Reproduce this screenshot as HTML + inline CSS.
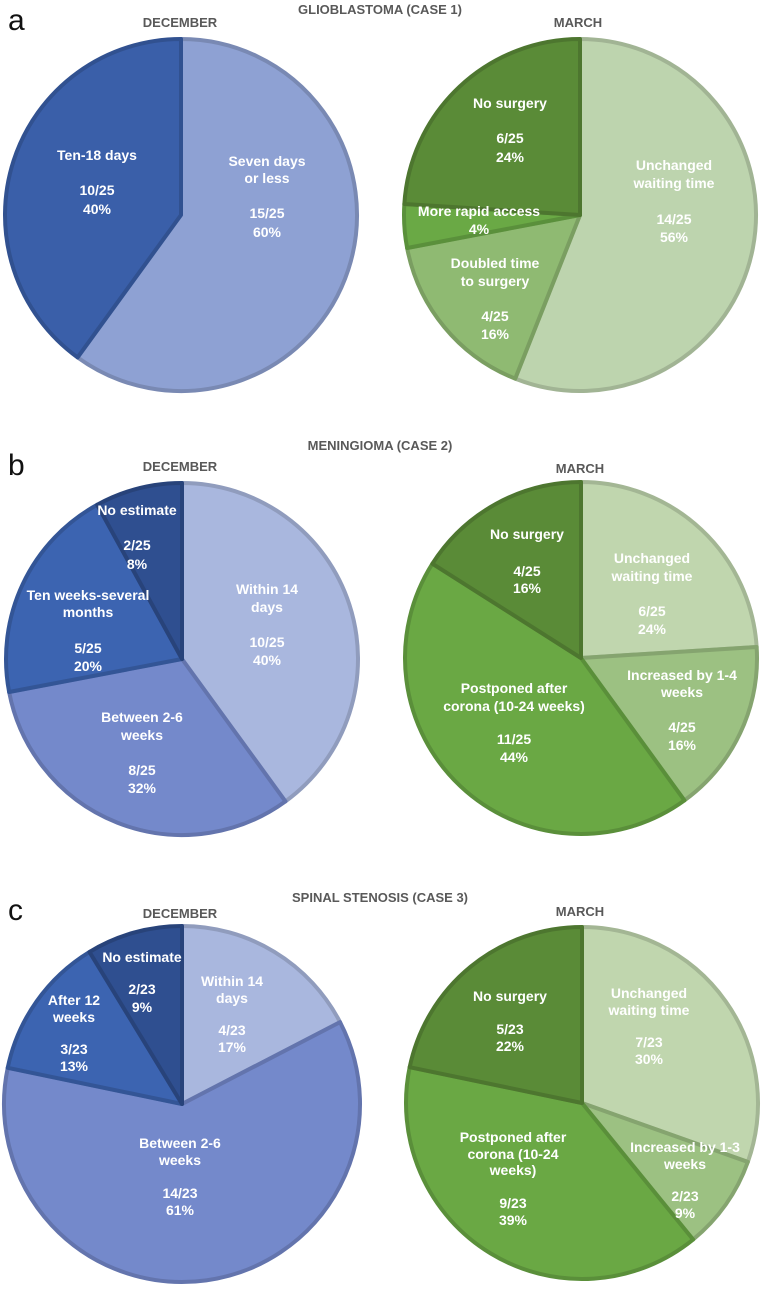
<!DOCTYPE html>
<html><head><meta charset="utf-8"><style>
html,body{margin:0;padding:0;background:#fff;}
svg text{font-family:"Liberation Sans",Arial,sans-serif;}
</style></head><body>
<svg id="fig" width="762" height="1285" viewBox="0 0 762 1285" xmlns="http://www.w3.org/2000/svg">
</svg>
<script>
const aDecValues=[15,10];
const aDecColors=["#8ea1d3","#3a5fa9"];
const aMarValues=[14,4,1,6];
const aMarColors=["#bdd4ae","#8fba72","#6aa945","#5a8b37"];
const bDecValues=[10,8,5,2];
const bDecColors=["#a9b7de","#7489cb","#3c64b1","#2f4f90"];
const bMarValues=[6,4,11,4];
const bMarColors=["#c0d6ae","#9cc182","#6aa844","#5a8b37"];
const cDecValues=[4,14,3,2];
const cDecColors=["#a9b7de","#7489cb","#3c64b1","#2f4f90"];
const cMarValues=[7,2,9,5];
const cMarColors=["#c0d6ae","#9cc182","#6aa844","#5a8b37"];

const NS="http://www.w3.org/2000/svg";
const svg=document.getElementById('fig');
function darker(hex){const n=parseInt(hex.slice(1),16);let r=n>>16,g=(n>>8)&255,b=n&255;r=Math.round(r*0.85);g=Math.round(g*0.85);b=Math.round(b*0.85);return `rgb(${r},${g},${b})`;}
function pie(name,cx,cy,r,values,colors){
  const total=values.reduce((a,b)=>a+b,0);
  let ang=0;
  const g=document.createElementNS(NS,'g');
  
  
  values.forEach((v,i)=>{
    const a0=ang,a1=ang+v/total*2*Math.PI;ang=a1;
    const x0=cx+r*Math.sin(a0),y0=cy-r*Math.cos(a0),x1=cx+r*Math.sin(a1),y1=cy-r*Math.cos(a1);
    const large=(a1-a0)>Math.PI?1:0;
    const p=document.createElementNS(NS,'path');
    p.setAttribute('d',`M${cx},${cy}L${x0},${y0}A${r},${r} 0 ${large} 1 ${x1},${y1}Z`);
    p.setAttribute('fill',colors[i]);
    p.setAttribute('stroke',darker(colors[i]));
    p.setAttribute('stroke-width','4');
    p.setAttribute('stroke-linejoin','round');
    
    
    g.appendChild(p);
  });
  svg.appendChild(g);
}
pie('pie-a-december',181,215,176,aDecValues,aDecColors);
pie('pie-a-march',580,215,176,aMarValues,aMarColors);
pie('pie-b-december',182,659,176,bDecValues,bDecColors);
pie('pie-b-march',581,658,176,bMarValues,bMarColors);
pie('pie-c-december',182,1104,178,cDecValues,cDecColors);
pie('pie-c-march',582,1103,176,cMarValues,cMarColors);

const labels=[
 ["label-ten-18-days",97,[["Ten-18 days",160],["10/25",195],["40%",214]]],
 ["label-seven-days",267,[["Seven days",166],["or less",183],["15/25",218],["60%",237]]],
 ["label-no-surgery-a",510,[["No surgery",108],["6/25",143],["24%",162]]],
 ["label-rapid-access-a",479,[["More rapid access",216],["4%",234]]],
 ["label-doubled-time-a",495,[["Doubled time",268],["to surgery",286],["4/25",321],["16%",339]]],
 ["label-unchanged-a",674,[["Unchanged",170],["waiting time",188],["14/25",224],["56%",242]]],
 ["label-no-estimate-b",137,[["No estimate",515],["2/25",550],["8%",569]]],
 ["label-ten-weeks-b",88,[["Ten weeks-several",600],["months",617],["5/25",653],["20%",671]]],
 ["label-within-14-b",267,[["Within 14",594],["days",612],["10/25",647],["40%",665]]],
 ["label-between-b",142,[["Between 2-6",722],["weeks",740],["8/25",775],["32%",793]]],
 ["label-no-surgery-b",527,[["No surgery",539],["4/25",576],["16%",593]]],
 ["label-unchanged-b",652,[["Unchanged",563],["waiting time",581],["6/25",616],["24%",634]]],
 ["label-increased-b",682,[["Increased by 1-4",680],["weeks",697],["4/25",732],["16%",750]]],
 ["label-postponed-b",514,[["Postponed after",693],["corona (10-24 weeks)",711],["11/25",744],["44%",762]]],
 ["label-no-estimate-c",142,[["No estimate",962],["2/23",994],["9%",1012]]],
 ["label-after-12-c",74,[["After 12",1005],["weeks",1022],["3/23",1054],["13%",1071]]],
 ["label-within-14-c",232,[["Within 14",986],["days",1003],["4/23",1035],["17%",1052]]],
 ["label-between-c",180,[["Between 2-6",1148],["weeks",1165],["14/23",1198],["61%",1215]]],
 ["label-no-surgery-c",510,[["No surgery",1001],["5/23",1034],["22%",1051]]],
 ["label-unchanged-c",649,[["Unchanged",998],["waiting time",1015],["7/23",1047],["30%",1064]]],
 ["label-increased-c",685,[["Increased by 1-3",1152],["weeks",1169],["2/23",1201],["9%",1218]]],
 ["label-postponed-c",513,[["Postponed after",1142],["corona (10-24",1159],["weeks)",1175],["9/23",1208],["39%",1225]]]
];
labels.forEach(([name,x,lines])=>{
  const t=document.createElementNS(NS,'text');
  
  
  t.setAttribute('text-anchor','middle');
  t.setAttribute('fill','#fff');
  t.setAttribute('font-weight','bold');
  t.setAttribute('font-size','14');
  lines.forEach(([s,y])=>{const ts=document.createElementNS(NS,'tspan');ts.setAttribute('x',x);ts.setAttribute('y',y);ts.textContent=s;t.appendChild(ts);});
  svg.appendChild(t);
});

const headers=[
 ["title-glioblastoma","GLIOBLASTOMA (CASE 1)",380,14],
 ["december-header-a","DECEMBER",180,27],
 ["march-header-a","MARCH",578,27],
 ["title-meningioma","MENINGIOMA (CASE 2)",380,450],
 ["december-header-b","DECEMBER",180,471],
 ["march-header-b","MARCH",580,473],
 ["title-spinal-stenosis","SPINAL STENOSIS (CASE 3)",380,902],
 ["december-header-c","DECEMBER",180,918],
 ["march-header-c","MARCH",580,916]
];
headers.forEach(([name,s,x,y])=>{
  const t=document.createElementNS(NS,'text');
  
  
  t.setAttribute('text-anchor','middle');
  t.setAttribute('fill','#595959');
  t.setAttribute('font-weight','bold');
  t.setAttribute('font-size','13');
  t.setAttribute('x',x);t.setAttribute('y',y);
  t.textContent=s;
  svg.appendChild(t);
});
const letters=[["panel-label-a","a",30],["panel-label-b","b",475],["panel-label-c","c",920]];
letters.forEach(([name,s,y])=>{
  const t=document.createElementNS(NS,'text');
  
  
  t.setAttribute('fill','#111');
  t.setAttribute('font-size','30');
  t.setAttribute('x',8);t.setAttribute('y',y);
  t.textContent=s;
  svg.appendChild(t);
});
</script>
</body></html>
